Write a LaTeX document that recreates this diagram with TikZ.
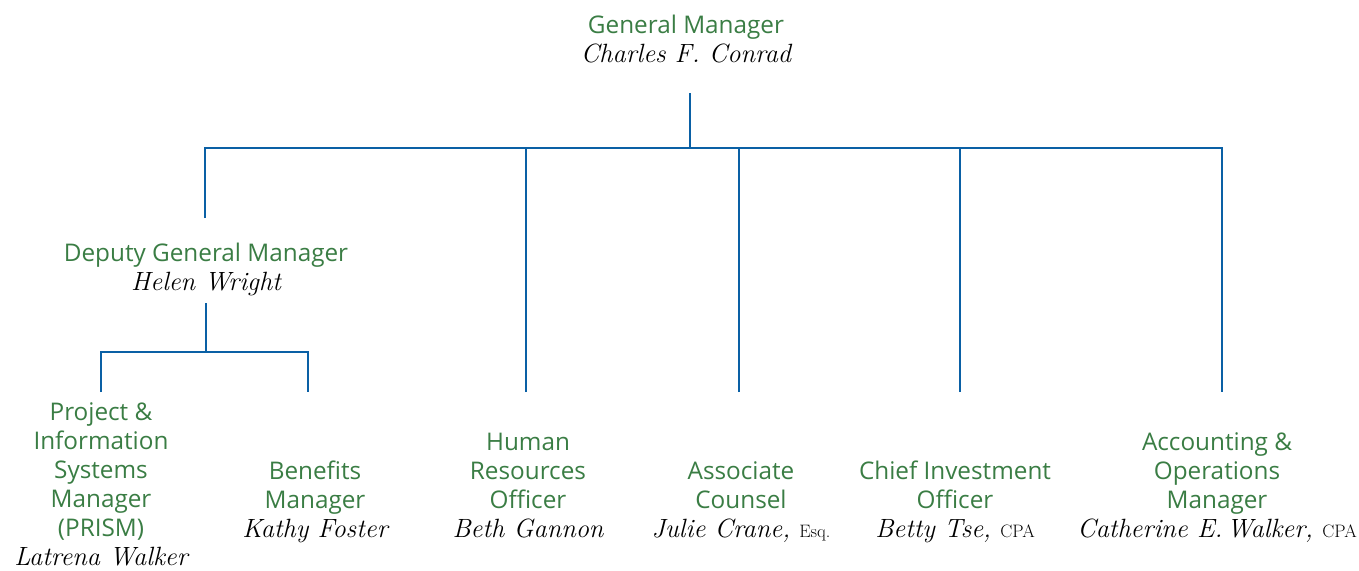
\documentclass[tikz,border=0pt]{standalone}
\usepackage{fontspec}
\newfontfamily\titlefont{Open Sans}
\definecolor{ttl}{RGB}{58,125,68}
\definecolor{ln}{RGB}{10,96,165}
\newcommand\nm[1]{\textcolor{black}{\rmfamily\itshape\fontsize{26.4}{29}\selectfont #1\strut}}
\newcommand\sfx[1]{{\rmfamily\upshape\fontsize{18}{29}\selectfont #1}}
\tikzset{
  conn/.style={draw=ln, line width=2.8pt},
  title/.style={text=ttl, align=center, inner sep=0pt, anchor=south,
    font=\titlefont\fontsize{24.3}{29}\selectfont},
}
\begin{document}
\begin{tikzpicture}[x=1pt,y=-1pt]
\useasboundingbox (0,0) rectangle (1359,570);
% nodes
\node[title] (gm)  at (686,71.7)  {General Manager\\ \nm{Charles F. Conrad}};
\node[title] (dgm) at (206,299.7) {Deputy General Manager\\ \nm{Helen Wright}};
\node[title] (pim) at (101,574.7) {Project \&\\ Information\\ Systems\\ Manager\\ (PRISM)\\ \nm{Latrena Walker}};
\node[title] (ben) at (315,546.7) {Benefits\\ Manager\\ \nm{Kathy Foster}};
\node[title] (hr)  at (528,546.7) {Human\\ Resources\\ Officer\\ \nm{Beth Gannon}};
\node[title] (ac)  at (741,546.7) {Associate\\ Counsel\\ \nm{Julie Crane, \sfx{Esq.}}};
\node[title] (cio) at (955,546.7) {Chief Investment\\ Officer\\ \nm{Betty Tse, \sfx{CPA}}};
\node[title] (aom) at (1217,546.7) {Accounting \&\\ Operations\\ Manager\\ \nm{Catherine E.\,Walker, \sfx{CPA}}};
% connector points
\coordinate (gmB)  at (690,93);
\coordinate (busL) at (205,148);
\coordinate (busR) at (1222,148);
\coordinate (dgmT) at (205,218);
\coordinate (dgmB) at (206,303);
\coordinate (subL) at (101,352);
\coordinate (subR) at (308,352);
\coordinate (pimT) at (101,392);
\coordinate (benT) at (308,392);
\coordinate (hrT)  at (526,392);
\coordinate (acT)  at (739,392);
\coordinate (cioT) at (960,392);
\coordinate (aomT) at (1222,392);
% connectors
\draw[conn] (gmB) -- (gmB |- busL);
\draw[conn] (dgmT) -- (busL) -- (busR) -- (aomT);
\draw[conn] (hrT) -- (hrT |- busL);
\draw[conn] (acT) -- (acT |- busL);
\draw[conn] (cioT) -- (cioT |- busL);
\draw[conn] (dgmB) -- (dgmB |- subL);
\draw[conn] (pimT) -- (subL) -- (subR) -- (benT);
\end{tikzpicture}
\end{document}
